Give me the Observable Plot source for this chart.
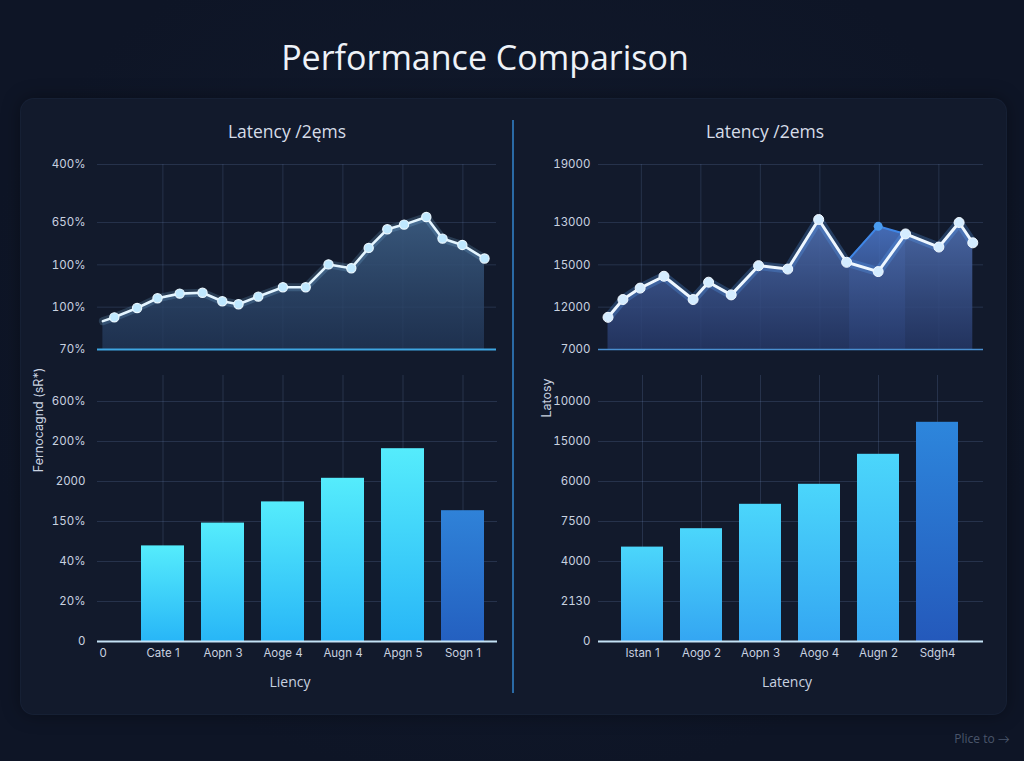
<!DOCTYPE html>
<html>
<head>
<meta charset="utf-8">
<script src="https://cdn.jsdelivr.net/npm/d3@7"></script>
<script src="https://cdn.jsdelivr.net/npm/@observablehq/plot@0.6"></script>
<style>
html,body{margin:0;padding:0;background:#0e1526;}
#root{position:relative;width:1024px;height:761px;overflow:hidden;
  background:radial-gradient(ellipse at 50% 45%, #121b2e 0%, #0e1526 75%);
  font-family:"Open Sans",Lato,sans-serif;}
.card{position:absolute;left:20px;top:98px;width:985px;height:615px;border-radius:14px;
  background:#121a2c;box-shadow:0 0 18px rgba(0,0,0,0.35);border:1px solid rgba(90,120,170,0.07);}
.sep{position:absolute;left:512px;top:120px;width:2px;height:573px;background:#2a6aa6;}
.layer{position:absolute;left:0;top:0;}
.txt{position:absolute;white-space:nowrap;transform:translate(-50%,-50%);}
.title{left:485px;top:57px;font-size:34px;color:#eef2f8;font-weight:400;}
.sub{font-size:17.5px;color:#d6dde8;}
.axt{font-size:14px;color:#c9d2e0;}
.rot{font-size:12.5px;color:#c9d2e0;transform:translate(-50%,-50%) rotate(-90deg);font-family:Inter,sans-serif;}
.foot{left:982px;top:738px;font-size:12px;color:#4a556b;}
</style>
</head>
<body>
<svg width="0" height="0" style="position:absolute">
  <defs>
    <linearGradient id="areaL" x1="0" y1="0" x2="0" y2="1">
      <stop offset="0%" stop-color="#3b5b80" stop-opacity="0.95"/>
      <stop offset="100%" stop-color="#22385a" stop-opacity="0.75"/>
    </linearGradient>
    <linearGradient id="areaR" x1="0" y1="0" x2="0" y2="1">
      <stop offset="0%" stop-color="#4d6cab" stop-opacity="0.95"/>
      <stop offset="100%" stop-color="#26396a" stop-opacity="0.8"/>
    </linearGradient>
    <linearGradient id="areaR2" x1="0" y1="0" x2="0" y2="1">
      <stop offset="0%" stop-color="#4a74c4" stop-opacity="0.9"/>
      <stop offset="100%" stop-color="#2f4a88" stop-opacity="0.6"/>
    </linearGradient>
    <linearGradient id="barL" x1="0" y1="0" x2="0" y2="1">
      <stop offset="0%" stop-color="#55ecfc"/>
      <stop offset="100%" stop-color="#28b6f7"/>
    </linearGradient>
    <linearGradient id="barLd" x1="0" y1="0" x2="0" y2="1">
      <stop offset="0%" stop-color="#2f82d8"/>
      <stop offset="100%" stop-color="#2460c0"/>
    </linearGradient>
    <linearGradient id="barR" x1="0" y1="0" x2="0" y2="1">
      <stop offset="0%" stop-color="#4bd6fb"/>
      <stop offset="100%" stop-color="#34a6f2"/>
    </linearGradient>
    <linearGradient id="barRd" x1="0" y1="0" x2="0" y2="1">
      <stop offset="0%" stop-color="#2d86dc"/>
      <stop offset="100%" stop-color="#2459bb"/>
    </linearGradient>
  </defs>
</svg>
<div id="root">
  <div class="card"></div>
  <div class="sep"></div>
  <div class="txt title">Performance Comparison</div>
  <div class="txt sub" style="left:287px;top:131px;">Latency /2ęms</div>
  <div class="txt sub" style="left:765px;top:131px;">Latency /2ems</div>
  <div class="txt axt" style="left:290px;top:681px;">Liency</div>
  <div class="txt axt" style="left:787px;top:681px;">Latency</div>
  <div class="txt rot" style="left:38px;top:420px;">Fernocagnd (sR*)</div>
  <div class="txt rot" style="left:546px;top:398px;">Latosy</div>
  <div class="txt foot">Plice to →</div>
</div>
<script>
// ---------- data ----------
// Top-left line (x in grid-step units, y in grid-step units)
const leftLineX = [0.0, 0.19, 0.57, 0.91, 1.28, 1.66, 1.99, 2.26, 2.59, 3.0, 3.38, 3.76, 4.14, 4.43, 4.74, 5.02, 5.39, 5.66, 5.99, 6.36];
const leftLineY = [0.67, 0.76, 0.98, 1.21, 1.32, 1.34, 1.14, 1.07, 1.25, 1.47, 1.47, 2.01, 1.92, 2.40, 2.84, 2.95, 3.13, 2.62, 2.47, 2.15];
const leftLineTicks = [0, 1, 2, 3, 4.37];
const leftLineLabels = ["70%", "100%", "100%", "650%", "400%"];

// Top-right line
const rightLineX = [0.44, 0.69, 0.98, 1.38, 1.87, 2.13, 2.51, 2.97, 3.46, 3.98, 4.45, 4.98, 5.44, 6.0, 6.34, 6.57];
const rightLineY = [0.76, 1.18, 1.45, 1.73, 1.18, 1.59, 1.29, 1.98, 1.90, 3.07, 2.06, 1.84, 2.73, 2.42, 3.0, 2.52];
const rightAltX = [4.5, 4.98, 5.44];
const rightAltY = [2.15, 2.91, 2.73];
const rightLineTicks = [0, 1, 2, 3, 4.37];
const rightLineLabels = ["7000", "12000", "15000", "13000", "19000"];

// Bottom-left bars
const leftCats = ["0", "Cate 1", "Aopn 3", "Aoge 4", "Augn 4", "Apgn 5", "Sogn 1"];
const leftVals = [0, 2.39, 2.96, 3.49, 4.08, 4.82, 3.27];
const leftBarTicks = [0, 1, 2, 3, 4, 5, 6];
const leftBarLabels = ["0", "20%", "40%", "150%", "2000", "200%", "600%"];

// Bottom-right bars
const rightCats = ["Istan 1", "Aogo 2", "Aopn 3", "Aogo 4", "Augn 2", "Sdgh4"];
const rightVals = [2.36, 2.82, 3.43, 3.93, 4.68, 5.48];
const rightBarTicks = [0, 1, 2, 3, 4, 5, 6];
const rightBarLabels = ["0", "2130", "4000", "7500", "6000", "15000", "10000"];

// ---------- helpers ----------
const W = 1024, H = 761;
const grid = "rgba(120,150,200,0.2)";
const baseStyle = {background: "transparent", color: "#c9d2e0", fontFamily: "Inter, sans-serif", fontSize: "11.5px", overflow: "visible"};
const root = document.getElementById("root");
function add(svg) {
  svg.classList.add("layer");
  svg.style.position = "absolute";
  root.appendChild(svg);
}
const fmt = (ticks, labels) => d => labels[ticks.indexOf(d)];

const leftLine = leftLineX.map((x, i) => ({x, y: leftLineY[i]}));
const rightLine = rightLineX.map((x, i) => ({x, y: rightLineY[i]}));
const rightAlt = rightAltX.map((x, i) => ({x, y: rightAltY[i]}));
const leftBars = leftCats.map((c, i) => ({c, v: leftVals[i], dark: i === leftCats.length - 1}));
const rightBars = rightCats.map((c, i) => ({c, v: rightVals[i], dark: i === rightCats.length - 1}));

// ---------- top-left line chart ----------
add(Plot.plot({
  width: W, height: H, marginLeft: 97, marginRight: W - 496, marginTop: 164, marginBottom: H - 349,
  style: baseStyle,
  x: {type: "linear", domain: [-0.09, 6.56], axis: null},
  y: {domain: [0, 4.37], axis: null},
  marks: [
    Plot.ruleY(leftLineTicks, {stroke: grid}),
    Plot.ruleX([1, 2, 3, 4, 5, 6], {stroke: grid}),
    Plot.areaY(leftLine, {x: "x", y: "y", fill: "url(#areaL)"}),
    Plot.line(leftLine, {x: "x", y: "y", stroke: "#8fd2ff", strokeWidth: 8, strokeOpacity: 0.18}),
    Plot.line(leftLine, {x: "x", y: "y", stroke: "#e4f5ff", strokeWidth: 2.6}),
    Plot.dot(leftLine.slice(1), {x: "x", y: "y", r: 4.6, fill: "#bfe8ff", stroke: "#eaf8ff", strokeWidth: 1.2, ariaLabel: "glowdot"}),
    Plot.ruleY([0], {stroke: "#3ea6e2", strokeWidth: 2}),
    Plot.axisY({ticks: leftLineTicks, tickFormat: fmt(leftLineTicks, leftLineLabels), tickSize: 0, tickPadding: 12, label: null})
  ]
}));

// ---------- top-right line chart ----------
add(Plot.plot({
  width: W, height: H, marginLeft: 598, marginRight: W - 983, marginTop: 164, marginBottom: H - 349,
  style: baseStyle,
  x: {type: "linear", domain: [0.28, 6.75], axis: null},
  y: {domain: [0, 4.37], axis: null},
  marks: [
    Plot.ruleY(rightLineTicks, {stroke: grid}),
    Plot.ruleX([1, 2, 3, 4, 5, 6], {stroke: grid}),
    Plot.areaY(rightAlt, {x: "x", y: "y", fill: "url(#areaR2)"}),
    Plot.areaY(rightLine, {x: "x", y: "y", fill: "url(#areaR)"}),
    Plot.line(rightAlt, {x: "x", y: "y", stroke: "#3f86e6", strokeWidth: 2}),
    Plot.dot(rightAlt.slice(1, 2), {x: "x", y: "y", r: 4.5, fill: "#4a9cf0"}),
    Plot.line(rightLine, {x: "x", y: "y", stroke: "#5aa8ff", strokeWidth: 9, strokeOpacity: 0.25}),
    Plot.line(rightLine, {x: "x", y: "y", stroke: "#eef7ff", strokeWidth: 3}),
    Plot.dot(rightLine, {x: "x", y: "y", r: 5, fill: "#d4ecff", stroke: "#f2f9ff", strokeWidth: 1, ariaLabel: "glowdot2"}),
    Plot.ruleY([0], {stroke: "#4a8fd0", strokeWidth: 1.5}),
    Plot.axisY({ticks: rightLineTicks, tickFormat: fmt(rightLineTicks, rightLineLabels), tickSize: 0, tickPadding: 8, label: null})
  ]
}));

// ---------- bottom-left bar chart ----------
add(Plot.plot({
  width: W, height: H, marginLeft: 97, marginRight: W - 497, marginTop: 375, marginBottom: H - 641,
  style: baseStyle,
  x: {type: "band", domain: leftCats, range: [72, 493.4], paddingInner: 0.28, paddingOuter: 0.14, axis: null},
  y: {domain: [0, 6.65], axis: null},
  marks: [
    Plot.ruleY(leftBarTicks, {stroke: grid}),
    Plot.ruleX(leftCats.slice(1), {x: d => d, stroke: grid}),
    Plot.barY(leftBars.filter(d => !d.dark), {x: "c", y: "v", fill: "url(#barL)", ariaLabel: "bars"}),
    Plot.barY(leftBars.filter(d => d.dark), {x: "c", y: "v", fill: "url(#barLd)", ariaLabel: "bars"}),
    Plot.ruleY([0], {stroke: "#c4e2f5", strokeWidth: 2}),
    Plot.axisY({ticks: leftBarTicks, tickFormat: fmt(leftBarTicks, leftBarLabels), tickSize: 0, tickPadding: 12, label: null}),
    Plot.axisX({tickSize: 0, tickPadding: 7, label: null})
  ]
}));

// ---------- bottom-right bar chart ----------
add(Plot.plot({
  width: W, height: H, marginLeft: 598, marginRight: W - 983, marginTop: 375, marginBottom: H - 641,
  style: baseStyle,
  x: {type: "band", domain: rightCats, range: [611, 968], paddingInner: 0.28, paddingOuter: 0.14, axis: null},
  y: {domain: [0, 6.65], axis: null},
  marks: [
    Plot.ruleY(rightBarTicks, {stroke: grid}),
    Plot.ruleX(rightCats, {x: d => d, stroke: grid}),
    Plot.barY(rightBars.filter(d => !d.dark), {x: "c", y: "v", fill: "url(#barR)", ariaLabel: "bars"}),
    Plot.barY(rightBars.filter(d => d.dark), {x: "c", y: "v", fill: "url(#barRd)", ariaLabel: "bars"}),
    Plot.ruleY([0], {stroke: "#c4e2f5", strokeWidth: 2}),
    Plot.axisY({ticks: rightBarTicks, tickFormat: fmt(rightBarTicks, rightBarLabels), tickSize: 0, tickPadding: 8, label: null}),
    Plot.axisX({tickSize: 0, tickPadding: 7, label: null})
  ]
}));

// glow effects
d3.selectAll('g[aria-label="glowdot"]').style("filter", "drop-shadow(0 0 3px rgba(140,210,255,0.8))");
d3.selectAll('g[aria-label="glowdot2"]').style("filter", "drop-shadow(0 0 4px rgba(90,160,255,0.95))");
d3.selectAll('g[aria-label="bars"]').style("filter", "drop-shadow(0 0 8px rgba(50,170,255,0.35))");
</script>
</body>
</html>
